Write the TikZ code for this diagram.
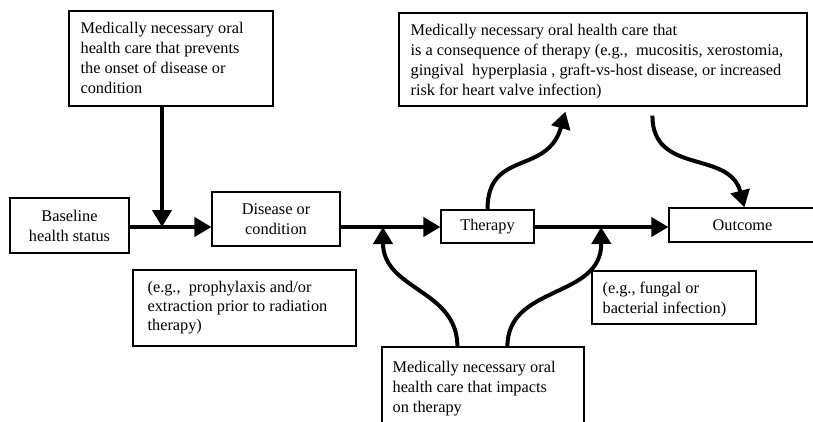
\documentclass[tikz,border=0pt]{standalone}
\usepackage{fontspec}
\setmainfont{Liberation Serif}
\usetikzlibrary{arrows.meta}
\begin{document}
\begin{tikzpicture}[x=1pt,y=-1pt,
  box/.style={draw, line width=1.2pt, rectangle, inner sep=0pt},
  txt/.style={inner sep=0pt, align=left, font=\fontsize{16.3}{20}\selectfont},
  ctxt/.style={align=center, font=\fontsize{16.3}{20}\selectfont},
  flow/.style={line width=4pt, -{Triangle[length=17pt,width=19pt]}},
]
\useasboundingbox (0,0) rectangle (813,421);
\fill[white] (0,0) rectangle (813,421);
\clip (0,0) rectangle (813,421);

% boxes along the main path
\node[box, ctxt, minimum width=119pt, minimum height=55pt] (base) at (69.5,225.5) {Baseline\\health status};
\node[box, ctxt, minimum width=128pt, minimum height=54pt] (dis) at (276,219) {Disease or\\condition};
\node[box, ctxt, minimum width=93pt, minimum height=33pt] (ther) at (487.5,226.5) {Therapy};
\node[box, ctxt, minimum width=147pt, minimum height=34pt] (out) at (742.5,225) {Outcome};

% care that prevents the condition
\node[box, minimum width=204pt, minimum height=95pt] (prev) at (171,58.5) {};
\node[txt, anchor=north west, xshift=12pt, yshift=-12pt] (prevtxt) at (prev.north west)
  {Medically necessary oral\\health care that prevents\\the onset of disease or\\condition};

% care that follows from therapy
\node[box, minimum width=408pt, minimum height=93pt] (consq) at (603,59.5) {};
\node[txt, anchor=north west, xshift=12pt, yshift=-12pt] (consqtxt) at (consq.north west)
  {Medically necessary oral health care that\\is a consequence of therapy (e.g.,~ mucositis, xerostomia,\\gingival~ hyperplasia , graft-vs-host disease, or increased\\risk for heart valve infection)};

% care that impacts on therapy
\node[box, minimum width=202pt, minimum height=93pt] (imp) at (483,393.5) {};
\node[txt, anchor=north west, xshift=11pt, yshift=-15pt] (imptxt) at (imp.north west)
  {Medically necessary oral\\health care that impacts\\on therapy};

% examples
\node[box, minimum width=223pt, minimum height=76pt] (exa) at (244.5,308) {};
\node[txt, font=\fontsize{16.3}{19}\selectfont, anchor=north west, xshift=15pt, yshift=-12pt] (exatxt) at (exa.north west)
  {(e.g.,~ prophylaxis and/or\\extraction prior to radiation\\therapy)};
\node[box, minimum width=164pt, minimum height=53pt] (exb) at (674,297.5) {};
\node[txt, anchor=north west, xshift=11pt, yshift=-11pt] (exbtxt) at (exb.north west)
  {(e.g., fungal or\\bacterial infection)};

% junctions on the main path
\coordinate (j1) at (162,227);
\coordinate (j2) at (383,227);
\coordinate (j3) at (601,227);

% main path
\draw[flow] (base.east |- j1) -- (dis.west |- j1);
\draw[flow] (dis.east |- j2) -- (ther.west |- j2);
\draw[flow] (ther.east |- j3) -- (out.west |- j3);

% prevention arrow
\draw[flow] (prev.south -| j1) -- (j1);

% arrows from the impacts box
\draw[flow] ([xshift=76pt]imp.north west) .. controls +(0,-57) and +(0,63) .. (j2);
\draw[flow] ([xshift=126pt]imp.north west) .. controls +(0,-62) and +(1,72) .. (j3);

% therapy to its consequences, and on to the outcome
\draw[flow] (ther.north) .. controls +(0,-60) and +(-18,64) .. ([xshift=167pt,yshift=-5pt]consq.south west);
\draw[flow] ([xshift=254pt,yshift=-9pt]consq.south west) .. controls +(0,60) and +(-15,-58) .. ([xshift=76pt]out.north west);
\end{tikzpicture}
\end{document}
